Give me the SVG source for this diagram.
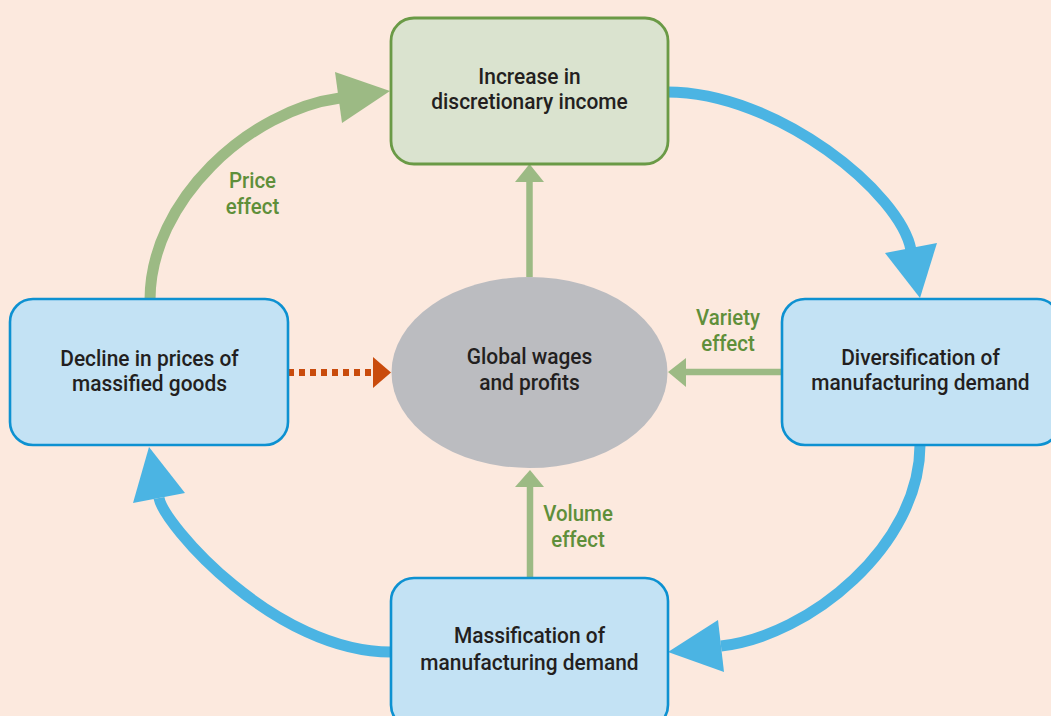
<svg xmlns="http://www.w3.org/2000/svg" width="1051" height="716" viewBox="0 0 1051 716">
  <style>
    .bg { fill: #fce9de; }
    .box-blue { fill: #c3e2f4; stroke: #0d91d1; stroke-width: 2.6; }
    .box-green { fill: #dae3cf; stroke: #6a9a46; stroke-width: 2.8; }
    .oval { fill: #bbbcc0; }
    .txt { font-family: Roboto, "Liberation Sans", Arial, sans-serif; font-weight: 500; font-size: 22.5px; fill: #231f20; text-anchor: middle; }
    .lbl { font-family: Roboto, "Liberation Sans", Arial, sans-serif; font-weight: 500; font-size: 22px; fill: #5f8f3a; text-anchor: middle; }
    .cycle { fill: none; stroke: #4bb4e3; stroke-width: 11; }
    .cycle-head { fill: #4bb4e3; }
    .price { fill: none; stroke: #9cba84; stroke-width: 11; }
    .effect { fill: none; stroke: #9cba84; stroke-width: 6.5; }
    .effect-head { fill: #9cba84; }
    .dotted { fill: none; stroke: #c94b0c; stroke-width: 7; stroke-dasharray: 6 5; }
    .dotted-head { fill: #c94b0c; }
  </style>

  <rect class="bg" x="0" y="0" width="1051" height="716"/>

  <!-- connectors -->
  <g id="connectors">
    <!-- price effect: decline in prices -> discretionary income -->
    <path class="price" d="M150,300 C150,200 250,110 340,98"/>
    <polygon class="effect-head" points="390,91 335,72 342,123"/>

    <!-- main cycle, clockwise -->
    <path class="cycle" d="M667,92 C778,92 901,194 911,250"/>
    <polygon class="cycle-head" points="920,298 885,253 937,243"/>

    <path class="cycle" d="M920,445 C920,545 810,636 721,646"/>
    <polygon class="cycle-head" points="668,652 718,620 724,672"/>

    <path class="cycle" d="M391,652 C275,652 164,525 159,498"/>
    <polygon class="cycle-head" points="149,447 133,503 185,493"/>

    <!-- effects feeding global wages and profits -->
    <line class="effect" x1="529.5" y1="277" x2="529.5" y2="180"/>
    <polygon class="effect-head" points="529.5,164 515,182 544,182"/>

    <line class="effect" x1="782" y1="372" x2="684" y2="372"/>
    <polygon class="effect-head" points="668,372 686,358 686,387"/>

    <line class="effect" x1="530" y1="578" x2="530" y2="485"/>
    <polygon class="effect-head" points="530,470 515,487 544,487"/>

    <line class="dotted" x1="288" y1="372.5" x2="372" y2="372.5"/>
    <polygon class="dotted-head" points="391,372.5 373,357 373,388"/>
  </g>

  <!-- nodes -->
  <g id="node-income">
    <rect class="box-green" x="391" y="18" width="277" height="146" rx="23"/>
    <text class="txt" transform="translate(529.5 0) scale(0.93 1)"><tspan x="0" y="84">Increase in</tspan><tspan x="0" y="109.5">discretionary income</tspan></text>
  </g>

  <g id="node-diversification">
    <rect class="box-blue" x="782" y="299" width="278" height="146" rx="23"/>
    <text class="txt" transform="translate(920.5 0) scale(0.93 1)"><tspan x="0" y="365">Diversification of</tspan><tspan x="0" y="390.5">manufacturing demand</tspan></text>
  </g>

  <g id="node-massification">
    <rect class="box-blue" x="391" y="578" width="277" height="150" rx="23"/>
    <text class="txt" transform="translate(529.5 0) scale(0.93 1)"><tspan x="0" y="643.5">Massification of</tspan><tspan x="0" y="670">manufacturing demand</tspan></text>
  </g>

  <g id="node-prices">
    <rect class="box-blue" x="10" y="299" width="278" height="146" rx="23"/>
    <text class="txt" transform="translate(149.5 0) scale(0.93 1)"><tspan x="0" y="366">Decline in prices of</tspan><tspan x="0" y="391">massified goods</tspan></text>
  </g>

  <g id="node-wages">
    <ellipse class="oval" cx="529.5" cy="372.5" rx="138" ry="95.5"/>
    <text class="txt" transform="translate(529.5 0) scale(0.93 1)"><tspan x="0" y="364.5">Global wages</tspan><tspan x="0" y="390">and profits</tspan></text>
  </g>

  <!-- effect labels -->
  <g id="labels">
    <text class="lbl" transform="translate(252.5 0) scale(0.93 1)"><tspan x="0" y="188.5">Price</tspan><tspan x="0" y="214">effect</tspan></text>
    <text class="lbl" transform="translate(728 0) scale(0.93 1)"><tspan x="0" y="325">Variety</tspan><tspan x="0" y="351">effect</tspan></text>
    <text class="lbl" transform="translate(578 0) scale(0.93 1)"><tspan x="0" y="521.5">Volume</tspan><tspan x="0" y="547.5">effect</tspan></text>
  </g>
</svg>
